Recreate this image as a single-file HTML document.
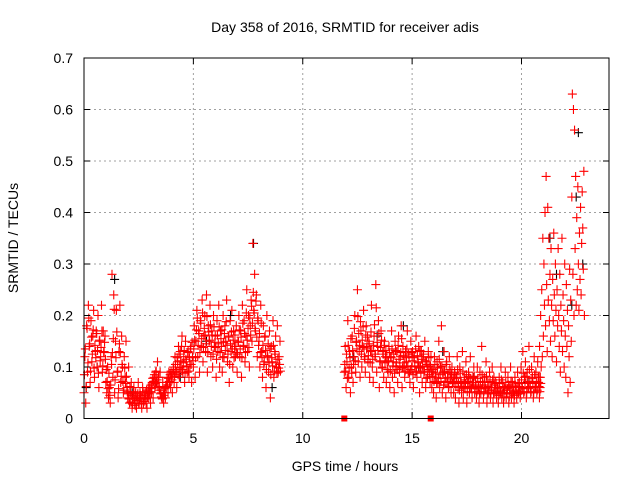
<!DOCTYPE html>
<html><head><meta charset="utf-8"><style>
body{margin:0;background:#fff}
svg{display:block;font-family:"Liberation Sans",sans-serif}
</style></head><body>
<svg id="chart" width="640" height="480">
<g id="grid"></g>
<g id="pts"></g>
<rect x="84" y="58" width="525" height="360.5" fill="none" stroke="#000" stroke-width="1"/>
<g id="axes"></g>
<text x="345" y="32" text-anchor="middle" font-size="14">Day 358 of 2016, SRMTID for receiver adis</text>
<text x="345" y="471" text-anchor="middle" font-size="14">GPS time / hours</text>
<text x="18" y="238" text-anchor="middle" font-size="14" transform="rotate(-90 18 238)">SRMTID / TECUs</text>
</svg>
<script>
const xTicks=[0,5,10,15,20];
const yTicks=[0,0.1,0.2,0.3,0.4,0.5,0.6,0.7];
const segStarts=[0,11.9,20.8];
const segSteps=[0.04,0.04,0.025];
const seg1=[5,12,3,18,9,22,14,7,19,11,16,21,8,13,17,10,20,6,15,12,22,9,17,13,16,
7,5,10,4,6,3,12,28,8,24,5,15,21,9,4,13,22,7,16,10,5,12,8,15,6,
4,10,3,5,7,2,4,6,3,5,2,4,7,3,5,4,2,6,3,4,5,3,2,5,4,
6,3,5,7,4,8,6,9,7,11,8,6,9,5,4,7,3,5,4,6,8,5,9,7,6,
8,5,10,7,12,9,6,11,14,8,13,10,16,9,12,7,15,11,9,13,8,10,14,7,12,
10,18,8,15,21,12,17,9,19,14,23,11,16,20,13,24,9,18,15,22,12,17,10,20,14,
16,8,19,13,22,10,17,14,9,20,12,18,15,23,11,16,7,19,13,21,10,17,14,12,18,
9,15,20,12,17,8,22,14,19,11,16,25,13,20,10,18,23,15,34,21,28,17,24,12,19,
15,10,22,13,8,18,11,16,6,20,12,9,17,4,14,11,19,8,13,16,10,18,9,12,15];
const seg2=[9,14,6,11,19,8,13,5,10,16,7,12,20,9,15,25,11,13,8,17,10,14,21,12,9,
18,14,11,15,8,13,22,10,7,16,12,26,9,14,19,6,11,17,10,13,8,15,12,7,11,
9,14,6,12,17,8,11,5,15,10,13,7,16,9,12,18,6,14,10,8,13,11,17,9,12,
7,15,10,13,6,12,9,16,8,11,14,5,10,13,7,12,9,15,6,11,8,13,10,7,12,
6,9,5,12,8,4,11,7,15,6,10,18,5,9,13,7,4,11,8,6,12,9,5,10,7,
5,9,4,8,12,6,3,10,7,5,13,4,8,6,11,3,7,9,5,12,6,4,8,10,5,
7,4,10,6,3,9,5,14,7,4,8,6,11,3,7,5,9,4,6,10,3,8,5,7,4,
6,3,8,5,10,4,7,3,6,9,4,5,8,3,6,10,4,7,5,3,8,6,4,9,5,
7,4,10,6,13,5,8,11,4,9,6,14,7,5,10,8,4,12,6,9,5,11,7,4,8];
const seg3=[8,14,6,20,10,25,12,35,16,30,22,40,
18,47,26,13,41,23,35,19,28,15,33,22,
12,27,19,36,24,16,30,21,11,25,18,33,
20,14,28,9,22,17,35,13,24,19,10,30,
16,8,26,14,21,5,18,12,29,7,23,15,
43,63,28,60,20,56,33,47,22,39,25,45,
30,21,36,27,41,24,34,44,37,29,48,20];
const segBStarts=[0.02,11.92];
const seg1b=[85,135,62,175,108,195,145,92,158,125,172,98,142,118,165,132,88,152,112,138,170,102,128,148,115,
95,72,58,88,45,65,105,128,155,212,75,118,168,92,58,145,128,82,105,72,55,98,68,82,52,
48,38,62,32,45,28,52,38,25,42,35,48,30,38,45,28,40,52,33,45,38,55,42,60,48,
52,65,58,78,72,85,68,92,75,62,80,55,48,42,38,50,45,58,62,70,65,78,72,85,92,
75,88,95,82,105,92,118,85,125,98,112,140,95,108,132,88,115,102,128,92,118,135,105,148,112,
135,152,118,172,195,142,165,128,185,155,205,138,175,162,145,198,128,168,152,182,140,162,125,178,148,
138,115,162,145,178,128,155,172,118,148,165,132,188,142,125,158,105,145,168,135,152,118,162,140,128,
125,148,172,135,158,118,185,142,165,128,205,152,175,138,195,162,218,185,245,205,175,228,158,195,142,
165,128,185,118,142,105,158,132,95,122,145,108,135,85,118,102,142,92,125,108,88,115,98,105,92];
const seg2b=[105,92,125,78,142,98,118,155,88,132,105,175,112,148,135,198,165,142,188,125,152,178,138,115,162,
135,158,122,145,108,168,132,115,142,182,125,215,148,132,165,112,138,152,98,125,142,108,132,118,95,
112,128,92,118,135,102,125,88,132,108,95,142,115,102,128,155,98,122,108,92,118,135,102,125,88,
95,128,112,85,118,102,135,92,122,108,98,132,88,115,102,125,92,112,78,105,95,118,85,102,92,
82,95,72,105,88,68,98,78,115,85,72,102,88,65,92,78,105,72,88,62,95,75,85,68,80,
72,85,62,78,95,68,55,88,72,62,92,58,75,68,85,52,72,82,62,78,58,70,65,82,60,
65,52,78,62,48,72,58,85,65,52,70,58,82,48,62,55,72,50,60,75,48,65,55,68,52,
58,45,68,52,75,48,62,42,55,70,48,58,65,42,55,72,48,62,52,45,65,55,48,68,52,
62,48,75,58,88,52,68,82,50,72,58,95,62,52,78,68,50,85,60,72,55,80,62,52,68];
const blackT=[0.1,0.6,1.4,2.2,3.3,4.4,5.6,6.7,7.75,8.6,12.3,13.4,14.6,15.3,16.4,17.8,19.2,20.3,21.3,21.6,22.3,22.5,22.6,22.8];
const blackV=[0.06,0.1,0.27,0.05,0.07,0.08,0.15,0.2,0.34,0.06,0.12,0.16,0.18,0.1,0.13,0.08,0.05,0.07,0.35,0.28,0.22,0.43,0.555,0.3];
const gapT=[11.9,15.85];
const NS='http://www.w3.org/2000/svg';
const X=t=>84+t*525/24, Y=v=>418.5-v*515;
function mk(tag,attrs,parent){const e=document.createElementNS(NS,tag);for(const k in attrs)e.setAttribute(k,attrs[k]);parent.appendChild(e);return e;}
const grid=document.getElementById('grid'),axes=document.getElementById('axes'),pts=document.getElementById('pts');
xTicks.forEach(t=>{const x=X(t);
 if(t>0){const l=mk('line',{x1:x,x2:x,y1:58,y2:418.5,stroke:'#a0a0a0','stroke-dasharray':'2,3'},grid);
 
 }
 mk('line',{x1:x,x2:x,y1:418.5,y2:412,stroke:'#000'},axes);
 mk('line',{x1:x,x2:x,y1:58,y2:64,stroke:'#000'},axes);
 const tx=mk('text',{x:x,y:443,'text-anchor':'middle','font-size':'14'},axes);tx.textContent=t;
 
 
});
yTicks.forEach(v=>{const y=Y(v);
 if(v>0&&v<0.7){const l=mk('line',{x1:84,x2:609,y1:y,y2:y,stroke:'#a0a0a0','stroke-dasharray':'2,3'},grid);
 
 }
 mk('line',{x1:84,x2:90,y1:y,y2:y,stroke:'#000'},axes);
 mk('line',{x1:603,x2:609,y1:y,y2:y,stroke:'#000'},axes);
 const tx=mk('text',{x:73,y:y+5,'text-anchor':'end','font-size':'14'},axes);tx.textContent=v===0?'0':v.toFixed(1);
 
 
});
function plus(t,v,c,name){const x=X(t),y=Y(v);
 const p=mk('path',{d:`M${x-4.5},${y}h9M${x},${y-4.5}v9`,stroke:c,'stroke-width':'1.1',fill:'none'},pts);
 
 }
blackT.forEach((t,i)=>plus(t,blackV[i],'#000','black-point'));
[seg1b,seg2b].forEach((s,k)=>s.forEach((v,i)=>plus(segBStarts[k]+i*segSteps[k],v/1000,'#f00','red-point')));
[seg1,seg2,seg3].forEach((s,k)=>s.forEach((v,i)=>plus(segStarts[k]+i*segSteps[k],v/100,'#f00','red-point')));
gapT.forEach(t=>{const r=mk('rect',{x:X(t)-3,y:415.5,width:6,height:6,fill:'#f00'},pts);
 
 });
</script>
</body></html>
